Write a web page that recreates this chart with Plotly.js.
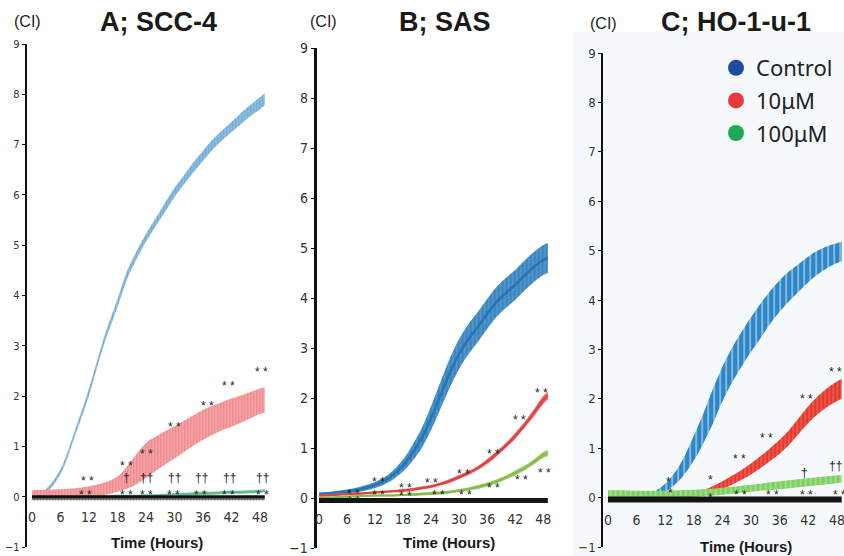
<!DOCTYPE html>
<html>
<head>
<meta charset="utf-8">
<script src="https://cdn.plot.ly/plotly-3.0.1.min.js"></script>
<style>
  html, body { margin: 0; padding: 0; background: #ffffff; overflow: hidden; width: 844px; height: 556px; }
  #chart { width: 880px; height: 556px; }
</style>
</head>
<body>
<div id="chart"></div>
<script>
// Sampling times (hours) shared by all three cell-index curves
const hours = [0, 3, 6, 9, 12, 15, 18, 20, 22, 24, 26, 28, 30, 32, 34, 36, 38, 40, 42, 44, 46, 48, 49];
const tickHours = [0, 6, 12, 18, 24, 30, 36, 42, 48];
const ciTicks = [-1, 0, 1, 2, 3, 4, 5, 6, 7, 8, 9];

// Panel A: SCC-4 (mean cell index and SD)
const ctrlA    = [0.0, 0.12, 0.5, 1.25, 2.08, 3.05, 3.85, 4.4, 4.8, 5.15, 5.45, 5.75, 6.05, 6.3, 6.55, 6.78, 7.0, 7.18, 7.35, 7.52, 7.68, 7.82, 7.9];
const ctrlAErr = [0.03, 0.04, 0.05, 0.06, 0.07, 0.07, 0.08, 0.08, 0.08, 0.08, 0.08, 0.09, 0.09, 0.09, 0.1, 0.1, 0.1, 0.1, 0.1, 0.11, 0.11, 0.12, 0.12];
const lowA     = [0.05, 0.07, 0.08, 0.09, 0.11, 0.15, 0.25, 0.38, 0.55, 0.72, 0.85, 0.97, 1.08, 1.2, 1.32, 1.43, 1.52, 1.6, 1.67, 1.74, 1.82, 1.9, 1.92];
const lowAErr  = [0.08, 0.07, 0.07, 0.08, 0.1, 0.12, 0.15, 0.22, 0.3, 0.35, 0.34, 0.33, 0.32, 0.31, 0.3, 0.3, 0.29, 0.28, 0.28, 0.27, 0.26, 0.25, 0.25];
const highA    = [0.0, 0.0, 0.0, 0.0, 0.01, 0.01, 0.02, 0.02, 0.02, 0.03, 0.03, 0.04, 0.05, 0.05, 0.06, 0.07, 0.07, 0.08, 0.09, 0.09, 0.1, 0.11, 0.12];
const highAErr = [0.02, 0.02, 0.02, 0.02, 0.02, 0.02, 0.02, 0.02, 0.02, 0.02, 0.02, 0.02, 0.02, 0.03, 0.03, 0.03, 0.03, 0.03, 0.03, 0.03, 0.03, 0.03, 0.03];
const blankA    = [-0.035, -0.035, -0.035, -0.035, -0.035, -0.035, -0.035, -0.035, -0.035, -0.035, -0.035, -0.035, -0.035, -0.035, -0.035, -0.035, -0.035, -0.035, -0.035, -0.035, -0.035, -0.035, -0.035];
const blankAErr = [0.035, 0.035, 0.035, 0.035, 0.035, 0.035, 0.035, 0.035, 0.035, 0.035, 0.035, 0.035, 0.035, 0.035, 0.035, 0.035, 0.035, 0.035, 0.035, 0.035, 0.035, 0.035, 0.035];

// Panel B: SAS
const ctrlB    = [0.08, 0.1, 0.13, 0.18, 0.26, 0.4, 0.65, 0.9, 1.2, 1.6, 2.05, 2.5, 2.88, 3.18, 3.42, 3.68, 3.92, 4.1, 4.26, 4.45, 4.62, 4.76, 4.8];
const ctrlBErr = [0.03, 0.03, 0.04, 0.05, 0.06, 0.08, 0.12, 0.16, 0.2, 0.24, 0.27, 0.29, 0.3, 0.3, 0.3, 0.3, 0.3, 0.3, 0.3, 0.3, 0.3, 0.3, 0.3];
const lowB     = [0.05, 0.06, 0.08, 0.09, 0.11, 0.13, 0.15, 0.17, 0.2, 0.23, 0.28, 0.34, 0.42, 0.5, 0.6, 0.73, 0.88, 1.05, 1.24, 1.46, 1.7, 1.96, 2.05];
const lowBErr  = [0.02, 0.02, 0.02, 0.02, 0.02, 0.02, 0.03, 0.03, 0.03, 0.03, 0.03, 0.04, 0.04, 0.04, 0.04, 0.05, 0.05, 0.05, 0.06, 0.06, 0.07, 0.08, 0.08];
const highB    = [0.0, 0.01, 0.03, 0.04, 0.05, 0.05, 0.06, 0.07, 0.08, 0.09, 0.1, 0.12, 0.15, 0.18, 0.22, 0.27, 0.33, 0.41, 0.5, 0.6, 0.72, 0.86, 0.9];
const highBErr = [0.02, 0.02, 0.02, 0.02, 0.02, 0.02, 0.02, 0.03, 0.03, 0.03, 0.03, 0.03, 0.03, 0.03, 0.04, 0.04, 0.04, 0.04, 0.05, 0.05, 0.05, 0.06, 0.06];
const blankB    = [-0.05, -0.05, -0.05, -0.05, -0.05, -0.05, -0.05, -0.05, -0.05, -0.05, -0.05, -0.05, -0.05, -0.05, -0.05, -0.05, -0.05, -0.05, -0.05, -0.05, -0.05, -0.05, -0.05];
const blankBErr = [0.05, 0.05, 0.05, 0.05, 0.05, 0.05, 0.05, 0.05, 0.05, 0.05, 0.05, 0.05, 0.05, 0.05, 0.05, 0.05, 0.05, 0.05, 0.05, 0.05, 0.05, 0.05, 0.05];

// Panel C: HO-1-u-1
const ctrlC    = [0.02, 0.02, 0.03, 0.05, 0.2, 0.5, 1.0, 1.4, 1.85, 2.3, 2.68, 3.0, 3.3, 3.58, 3.85, 4.08, 4.28, 4.45, 4.62, 4.76, 4.87, 4.95, 4.98];
const ctrlCErr = [0.03, 0.03, 0.03, 0.04, 0.08, 0.15, 0.25, 0.3, 0.35, 0.35, 0.35, 0.35, 0.35, 0.35, 0.33, 0.32, 0.3, 0.28, 0.26, 0.24, 0.22, 0.2, 0.2];
const lowC     = [0.0, 0.0, 0.02, 0.03, 0.04, 0.05, 0.07, 0.1, 0.16, 0.25, 0.35, 0.46, 0.58, 0.72, 0.87, 1.03, 1.22, 1.45, 1.68, 1.87, 2.03, 2.15, 2.2];
const lowCErr  = [0.04, 0.04, 0.04, 0.04, 0.05, 0.05, 0.05, 0.06, 0.07, 0.08, 0.09, 0.1, 0.11, 0.12, 0.13, 0.14, 0.15, 0.16, 0.17, 0.18, 0.19, 0.2, 0.2];
const highC    = [0.08, 0.08, 0.07, 0.07, 0.07, 0.08, 0.09, 0.1, 0.11, 0.13, 0.15, 0.17, 0.19, 0.21, 0.23, 0.25, 0.27, 0.29, 0.31, 0.33, 0.35, 0.37, 0.38];
const highCErr = [0.07, 0.07, 0.07, 0.07, 0.07, 0.07, 0.07, 0.07, 0.07, 0.07, 0.07, 0.07, 0.07, 0.07, 0.08, 0.08, 0.08, 0.08, 0.08, 0.08, 0.08, 0.08, 0.08];
const blankC    = [-0.04, -0.04, -0.04, -0.04, -0.04, -0.04, -0.04, -0.04, -0.04, -0.04, -0.04, -0.04, -0.04, -0.04, -0.04, -0.04, -0.04, -0.04, -0.04, -0.04, -0.04, -0.04, -0.04];
const blankCErr = [0.06, 0.06, 0.06, 0.06, 0.06, 0.06, 0.06, 0.06, 0.06, 0.06, 0.06, 0.06, 0.06, 0.06, 0.06, 0.06, 0.06, 0.06, 0.06, 0.06, 0.06, 0.06, 0.06];

// Significance marks: [hour, cell index, symbol]
const marksA = [
  [11.6, 0.38, '* *'], [11.2, 0.09, '* *'],
  [19.8, 0.68, '* *'], [19.8, 0.38, '†'], [19.8, 0.1, '* *'],
  [24.1, 0.91, '* *'], [24.1, 0.38, '††'], [24.1, 0.1, '* *'],
  [30.1, 1.45, '* *'], [30.1, 0.38, '††'], [29.8, 0.1, '* *'],
  [36.9, 1.86, '* *'], [35.7, 0.38, '††'], [35.4, 0.1, '* *'],
  [41.3, 2.26, '* *'], [41.5, 0.38, '††'], [41.3, 0.1, '* *'],
  [48.3, 2.53, '* *'], [48.6, 0.38, '††'], [48.6, 0.1, '* *']
];
const marksB = [
  [7.3, 0.15, '* *'], [7.3, 0.0, '* *'],
  [12.8, 0.39, '* *'], [12.8, 0.13, '* *'],
  [18.6, 0.27, '* *'], [18.6, 0.1, '* *'],
  [24.1, 0.37, '* *'], [25.6, 0.13, '* *'],
  [30.9, 0.54, '* *'], [31.3, 0.13, '* *'],
  [37.3, 0.94, '* *'], [37.3, 0.26, '* *'],
  [43.0, 1.63, '* *'], [43.4, 0.43, '* *'],
  [47.7, 2.17, '* *'], [48.2, 0.57, '* *']
];
const marksC = [
  [12.6, 0.38, '*'], [13.1, 0.15, '*'],
  [21.5, 0.41, '*'], [21.5, 0.06, '*'],
  [27.5, 0.84, '* *'], [27.7, 0.12, '* *'],
  [33.3, 1.26, '* *'], [34.5, 0.11, '* *'],
  [41.7, 2.06, '* *'], [41.2, 0.5, '†'], [41.7, 0.11, '* *'],
  [47.6, 2.61, '* *'], [47.8, 0.63, '††'], [48.6, 0.11, '* *']
];

const panelTitles = ['A; SCC-4', 'B; SAS', 'C; HO-1-u-1'];
const groupNames = ['Control', '10μM', '100μM'];

// The figure is laid out a little wider than the window; the right panel runs off the edge.
const W = 880, H = 556;
const px = v => v / W;
const py = v => 1 - v / H;

// --- drawing helpers ---
function band(x, mean, err, ax, st) {
  const lo = mean.map((m, i) => m - err[i]);
  const hi = mean.map((m, i) => m + err[i]);
  const xa = 'x' + ax, ya = 'y' + ax;
  const out = [
    { x: x, y: lo, xaxis: xa, yaxis: ya, mode: 'lines', showlegend: false, hoverinfo: 'skip',
      line: { width: st.edgeWidth || 0, color: st.edge || st.fill, shape: 'spline' } },
    { x: x, y: hi, xaxis: xa, yaxis: ya, mode: 'lines', showlegend: false, hoverinfo: 'skip',
      fill: 'tonexty', fillcolor: st.fill,
      fillpattern: st.stripe ? { shape: '|', bgcolor: st.fill, fgcolor: st.stripe, size: st.stripeSize || 4, solidity: st.solidity || 0.3 } : undefined,
      line: { width: st.topWidth != null ? st.topWidth : (st.edgeWidth || 0), color: st.top || st.edge || st.fill, shape: 'spline' } }
  ];
  if (st.center) {
    out.push({ x: x, y: mean, xaxis: xa, yaxis: ya, mode: 'lines', showlegend: false, hoverinfo: 'skip',
      line: { width: st.centerWidth || 2, color: st.center, shape: 'spline' } });
  }
  return out;
}

const tickFontSmall = { family: 'Liberation Sans Narrow, DejaVu Sans Condensed, Arial Narrow, sans-serif', size: 12, color: '#333' };
const tickFontX = { family: 'Liberation Sans Narrow, DejaVu Sans Condensed, Arial Narrow, sans-serif', size: 14, color: '#333' };

const traces = [].concat(
  // A
  band(hours, ctrlA, ctrlAErr, '', { fill: '#8cbde0', stripe: '#6aa5d2', stripeSize: 3 }),
  band(hours, lowA, lowAErr, '', { fill: '#f4a2a4', stripe: '#ee7f84', stripeSize: 3 }),
  band(hours, highA, highAErr, '', { fill: '#5ec08e' }),
  band(hours, blankA, blankAErr, '', { fill: '#8a8a8a', stripe: '#555555', stripeSize: 3, top: '#111111', topWidth: 3 }),
  // B
  band(hours, ctrlB, ctrlBErr, '2', { fill: '#4f95cb', stripe: '#2f7bb8', stripeSize: 4, center: '#2674b2', centerWidth: 2.5 }),
  band(hours, lowB, lowBErr, '2', { fill: '#e86a6a', center: '#df4040', centerWidth: 2 }),
  band(hours, highB, highBErr, '2', { fill: '#9fcb6e', center: '#84bb4a', centerWidth: 2 }),
  band(hours, blankB, blankBErr, '2', { fill: '#151515' }),
  // C
  band(hours, ctrlC, ctrlCErr, '3', { fill: '#2a87c9', stripe: '#a9c6e0', stripeSize: 6, solidity: 0.25 }),
  band(hours, lowC, lowCErr, '3', { fill: '#e8382e', stripe: '#f06a5a', stripeSize: 4 }),
  band(hours, highC, highCErr, '3', { fill: '#7fd064', stripe: '#a6e08e', stripeSize: 5 }),
  band(hours, blankC, blankCErr, '3', { fill: '#141414' })
);

// Hour labels of the right panel, drawn as a text series just under the baseline
traces.push({ x: tickHours, y: tickHours.map(() => -0.49), xaxis: 'x3', yaxis: 'y3', mode: 'text',
  text: tickHours.map(String), textposition: 'middle center', textfont: tickFontX,
  cliponaxis: false, showlegend: false, hoverinfo: 'skip' });

// Legend entries (panel C)
const legendColors = ['#1d4d9c', '#e8383f', '#1fa657'];
groupNames.forEach((n, i) => {
  traces.push({ x: [null], y: [null], xaxis: 'x3', yaxis: 'y3', mode: 'markers', name: n,
    legendgroup: 'g' + i, showlegend: true, marker: { size: 18, color: legendColors[i] } });
});

function xAxis(domain, range, posPx, showLabels) {
  return { domain: domain, range: range, anchor: 'free', position: py(posPx),
    tickvals: tickHours, ticks: '', showline: false, showgrid: false, zeroline: false,
    showticklabels: showLabels, ticklabeloverflow: 'allow', tickfont: tickFontX, fixedrange: true };
}
function yAxis(domain, xa, lw, fsize) {
  return { domain: domain, range: [-1, 9], anchor: xa, tickvals: ciTicks,
    showline: true, linecolor: '#111', linewidth: lw, ticks: 'outside', ticklen: 3, tickcolor: '#111',
    showgrid: false, zeroline: false,
    tickfont: Object.assign({}, tickFontSmall, { size: fsize }), fixedrange: true };
}

const annotations = [];
function addMarks(list, ax) {
  list.forEach(m => {
    const isStar = m[2].indexOf('*') >= 0;
    annotations.push({ x: m[0], y: m[1], xref: 'x' + ax, yref: 'y' + ax, text: m[2], showarrow: false,
      xanchor: 'center', yanchor: 'middle', yshift: isStar ? -3 : 0,
      font: { family: 'Liberation Sans, Arial, sans-serif', size: 12, color: '#222' } });
  });
}
addMarks(marksA, '');
addMarks(marksB, '2');
addMarks(marksC, '3');

// Panel headings, unit labels and axis titles
const titleX = [158, 445, 736];
const ciX = [28, 323, 603];
const ciY = [22, 22, 24];
const xTitleX = [157, 449, 746];
const xTitleY = [542, 542, 546];
panelTitles.forEach((t, i) => {
  annotations.push({ x: px(titleX[i]), y: py(22), xref: 'paper', yref: 'paper', text: '<b>' + t + '</b>',
    showarrow: false, xanchor: 'center', yanchor: 'middle',
    font: { family: 'Liberation Sans, Arial, sans-serif', size: 27, color: '#1a1a1a' } });
  annotations.push({ x: px(ciX[i]), y: py(ciY[i]), xref: 'paper', yref: 'paper', text: '(CI)',
    showarrow: false, xanchor: 'center', yanchor: 'middle',
    font: { family: 'Liberation Sans, Arial, sans-serif', size: 16, color: '#222' } });
  annotations.push({ x: px(xTitleX[i]), y: py(xTitleY[i]), xref: 'paper', yref: 'paper', text: '<b>Time (Hours)</b>',
    showarrow: false, xanchor: 'center', yanchor: 'middle',
    font: { family: 'Liberation Sans, Arial, sans-serif', size: 15, color: '#1a1a1a' } });
});

const layout = {
  width: W, height: H,
  margin: { l: 0, r: 0, t: 0, b: 0 },
  paper_bgcolor: '#ffffff', plot_bgcolor: 'rgba(0,0,0,0)',
  showlegend: true,
  legend: { x: px(716), y: py(47), xanchor: 'left', yanchor: 'top', bgcolor: 'rgba(0,0,0,0)',
    font: { family: 'Noto Sans, sans-serif', size: 22, color: '#222' }, tracegroupgap: 1, itemwidth: 30 },
  xaxis: xAxis([px(27.25), px(269.5)], [-1, 50], 507, true),
  yaxis: yAxis([py(547), py(44)], 'x', 2.5, 11),
  xaxis2: xAxis([px(316.7), px(552.5)], [-0.5, 50], 509, true),
  yaxis2: yAxis([py(548), py(48)], 'x2', 3, 14),
  xaxis3: xAxis([px(603.2), px(603.2 + 53 * 4.77)], [-1, 52], 513, false),
  yaxis3: yAxis([py(547), py(53)], 'x3', 2, 13),
  shapes: [
    { type: 'rect', xref: 'paper', yref: 'paper', x0: px(573), x1: 1, y0: 0, y1: py(32),
      fillcolor: '#f6f9fc', line: { width: 0 }, layer: 'below' }
  ],
  annotations: annotations
};

Plotly.newPlot('chart', traces, layout, { staticPlot: true, displayModeBar: false });
</script>
</body>
</html>
